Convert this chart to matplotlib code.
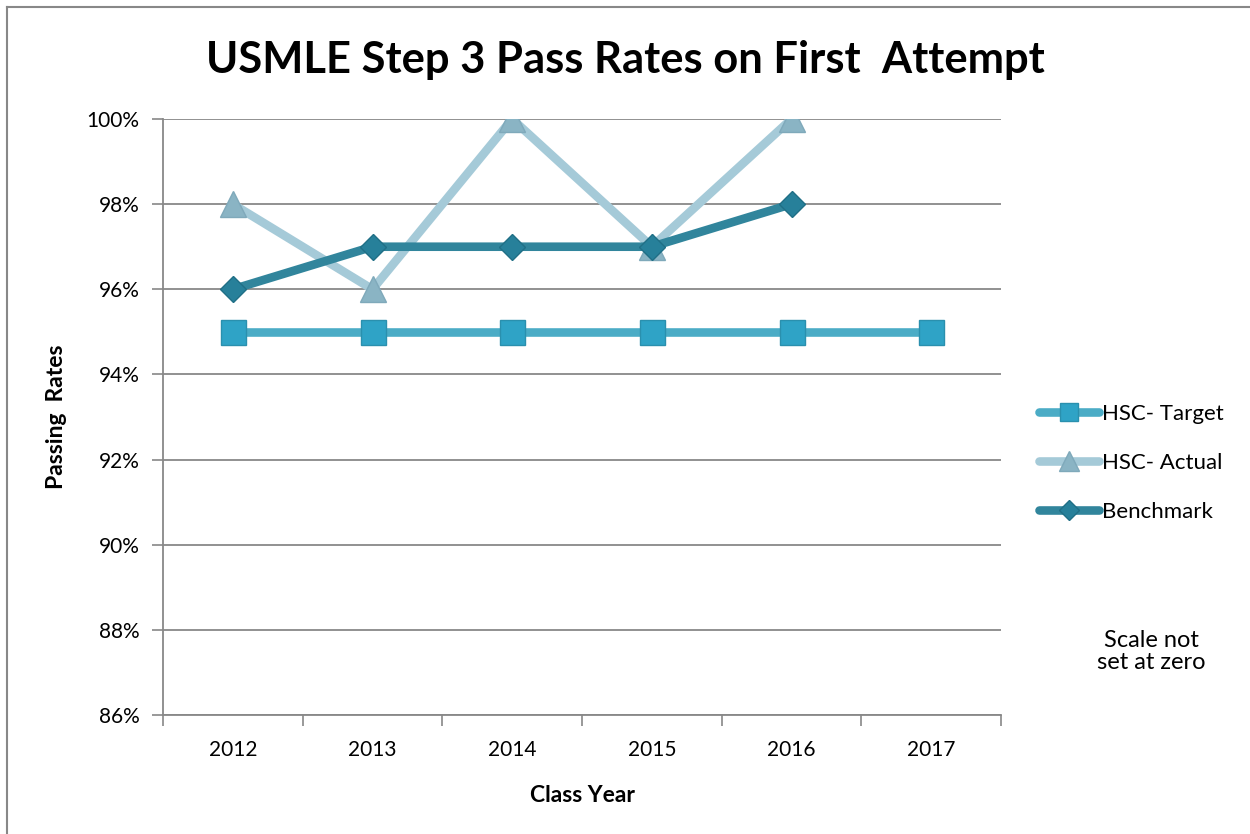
import matplotlib
matplotlib.use("Agg")
import matplotlib.pyplot as plt
from matplotlib.lines import Line2D
import numpy as np

years = ["2012", "2013", "2014", "2015", "2016", "2017"]
target = [95, 95, 95, 95, 95, 95]
actual = [98, 96, 100, 97, 100]
benchmark = [96, 97, 97, 97, 98]
yticks = [86, 88, 90, 92, 94, 96, 98, 100]

plt.rcParams['font.family'] = ['Lato', 'DejaVu Sans']

fig = plt.figure(figsize=(12.5, 8.34), dpi=100)
ax = fig.add_axes([0.1304, 0.1427, 0.6704, 0.7146])

c_target, m_target = "#4BACC6", "#2FA3C6"
c_actual, m_actual = "#A5CAD8", "#8AB4C4"
c_bench, m_bench = "#31859C", "#27809A"

x = np.arange(len(years))
lw = 6.2
ax.plot(x[:len(target)], target, color=c_target, lw=lw, marker='s', ms=18,
        mfc=m_target, mec="#2A90AE", mew=1, solid_capstyle='round', label="HSC- Target", zorder=3)
ax.plot(x[:len(actual)], actual, color=c_actual, lw=lw, marker='^', ms=19,
        mfc=m_actual, mec="#7FA9BA", mew=1, solid_capstyle='round', label="HSC- Actual", zorder=4)
ax.plot(x[:len(benchmark)], benchmark, color=c_bench, lw=lw, marker='D', ms=13,
        mfc=m_bench, mec="#206F86", mew=1, solid_capstyle='round', label="Benchmark", zorder=5)

ax.set_xlim(-0.5, len(years) - 0.5)
ax.set_ylim(86, 100)
ax.set_yticks(yticks)
ax.set_yticklabels([f"{v}%" for v in yticks], fontsize=15)
ax.set_xticks(x)
ax.set_xticklabels(years, fontsize=15)
ax.set_xticks(np.arange(-0.5, len(years)), minor=True)
ax.tick_params(axis='x', which='major', length=0, pad=18)
ax.tick_params(axis='x', which='minor', length=8, width=1.2, color="#888888", direction='out')
ax.tick_params(axis='y', length=8, width=1.2, color="#888888", pad=9)
ax.grid(axis='y', color="#888888", lw=1.3, zorder=0)
ax.set_axisbelow(True)
for s in ['top', 'right']:
    ax.spines[s].set_visible(False)
for s in ['left', 'bottom']:
    ax.spines[s].set_color("#888888")
    ax.spines[s].set_linewidth(1.3)

ax.set_ylabel("Passing  Rates", fontsize=16.5, fontweight='bold', labelpad=14)
ax.set_xlabel("Class Year", fontsize=16.5, fontweight='bold', labelpad=18)

fig.text(0.5, 0.928, "USMLE Step 3 Pass Rates on First  Attempt", ha='center', va='center',
         fontsize=31.3, fontweight='bold')

leg = ax.legend(loc='center left', bbox_to_anchor=(1.022, 0.423), frameon=False, fontsize=16,
                handlelength=2.7, handletextpad=0.1, labelspacing=1.3, markerscale=0.75)

fig.text(0.921, 0.219, "Scale not\nset at zero", ha='center', va='center', fontsize=17,
         linespacing=1.1)

# outer border
fig.add_artist(Line2D([0.0056, 0.0056], [0, 0.9916], color="#888888", lw=1.5, transform=fig.transFigure))
fig.add_artist(Line2D([0.0056, 1.0], [0.9916, 0.9916], color="#888888", lw=1.5, transform=fig.transFigure))

fig.savefig("out.png", dpi=100)
